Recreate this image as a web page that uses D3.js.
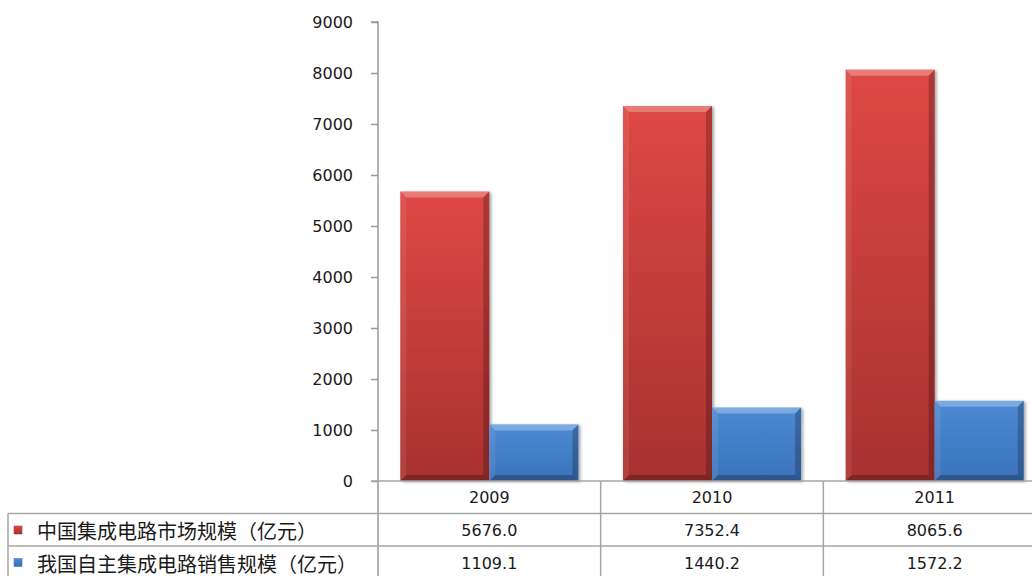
<!doctype html>
<html>
<head>
<meta charset="utf-8">
<title>集成电路市场规模</title>
<script src="https://cdnjs.cloudflare.com/ajax/libs/d3/7.8.5/d3.min.js"></script>
<style>
  body { margin: 0; background: #fff; overflow: hidden; }
  text { font-family: 'DejaVu Sans', Verdana, sans-serif; fill: #1a1a1a; }
  .cjk { font-family: 'Noto Sans CJK SC', sans-serif; }
</style>
</head>
<body>
<div id="chart"></div>
<script>
  // data
  const years = ['2009', '2010', '2011'];
  const seriesNames = ['中国集成电路市场规模（亿元）', '我国自主集成电路销售规模（亿元）'];
  const marketSize = [5676.0, 7352.4, 8065.6];
  const domesticSales = [1109.1, 1440.2, 1572.2];
  const yTicks = [0, 1000, 2000, 3000, 4000, 5000, 6000, 7000, 8000, 9000];

  const series = [marketSize, domesticSales];
  const colors = [
    { top: '#de4845', bottom: '#a8312f', key: 'red' },
    { top: '#4c8ad4', bottom: '#3a72ba', key: 'blue' }
  ];

  const W = 1032, H = 576;
  const x0 = 378, x1 = 1046, yTop = 22, yBase = 481;
  const rowH = 33.5;

  const svg = d3.select('#chart').append('svg')
    .attr('width', W).attr('height', H);

  const defs = svg.append('defs');
  colors.forEach(c => {
    const g = defs.append('linearGradient').attr('id', 'grad-' + c.key)
      .attr('x1', 0).attr('y1', 0).attr('x2', 0).attr('y2', 1);
    g.append('stop').attr('offset', '0%').attr('stop-color', c.top);
    g.append('stop').attr('offset', '100%').attr('stop-color', c.bottom);
  });
  const sh = defs.append('filter').attr('id', 'shadow')
    .attr('x', '-10%').attr('y', '-10%').attr('width', '130%').attr('height', '130%');
  sh.append('feDropShadow').attr('dx', 2).attr('dy', 1).attr('stdDeviation', 1.5)
    .attr('flood-color', '#000').attr('flood-opacity', 0.35);

  // scales
  const y = d3.scaleLinear().domain([0, 9000]).range([yBase, yTop]);
  const xCell = d3.scaleBand().domain(years).range([x0, x1]).padding(0);
  const x = d3.scaleBand().domain(years).range([x0, x1]).paddingInner(0.2).paddingOuter(0.1);
  const xs = d3.scaleBand().domain(d3.range(series.length)).range([0, x.bandwidth()]);

  // y axis
  const yAxis = svg.append('g')
    .attr('transform', `translate(${x0},0)`)
    .call(d3.axisLeft(y).tickValues(yTicks).tickSize(7).tickPadding(18).tickFormat(d3.format('d')));
  yAxis.select('.domain').attr('stroke', '#9a9a9a').attr('stroke-width', 1.5)
    .attr('d', `M-7,${yTop}H0V${H}`);
  yAxis.selectAll('.tick line').attr('stroke', '#9a9a9a').attr('stroke-width', 1.5);
  yAxis.selectAll('.tick text').attr('font-size', 16).attr('fill', '#1a1a1a')
    .attr('font-family', "'DejaVu Sans', Verdana, sans-serif");

  // bars
  const bev = 6;
  const barG = svg.append('g');
  years.forEach((yr, i) => {
    series.forEach((s, j) => {
      const bx = x(yr) + xs(j), bw = xs.bandwidth();
      const by = y(s[i]), bh = yBase - by;
      const g = barG.append('g');
      g.append('rect').attr('x', bx).attr('y', by).attr('width', bw).attr('height', bh)
        .attr('fill', `url(#grad-${colors[j].key})`).attr('filter', 'url(#shadow)');
      const pts = [
        [[bx, by], [bx + bw, by], [bx + bw - bev, by + bev], [bx + bev, by + bev], 'rgba(255,255,255,0.28)'],
        [[bx, by], [bx + bev, by + bev], [bx + bev, by + bh - bev], [bx, by + bh], 'rgba(255,255,255,0.08)'],
        [[bx + bw, by], [bx + bw, by + bh], [bx + bw - bev, by + bh - bev], [bx + bw - bev, by + bev], 'rgba(0,0,0,0.22)'],
        [[bx, by + bh], [bx + bev, by + bh - bev], [bx + bw - bev, by + bh - bev], [bx + bw, by + bh], 'rgba(0,0,0,0.25)']
      ];
      pts.forEach(p => {
        g.append('polygon').attr('points', p.slice(0, 4).map(q => q.join(',')).join(' '))
          .attr('fill', p[4]);
      });
    });
  });

  // data table
  const lineCol = '#a6a6a6';
  const tbl = svg.append('g');
  // horizontal lines
  tbl.append('line').attr('x1', x0 - 7).attr('x2', W).attr('y1', yBase).attr('y2', yBase)
    .attr('stroke', lineCol).attr('stroke-width', 1.5);
  [1, 2].forEach(r => {
    tbl.append('line').attr('x1', 8).attr('x2', W)
      .attr('y1', yBase + r * 32.5).attr('y2', yBase + r * 32.5)
      .attr('stroke', lineCol).attr('stroke-width', 1.5);
  });
  tbl.append('line').attr('x1', 8).attr('x2', 8).attr('y1', yBase + 32.5).attr('y2', H)
    .attr('stroke', lineCol).attr('stroke-width', 1.5);
  years.forEach(yr => {
    tbl.append('line').attr('x1', xCell(yr) + xCell.bandwidth()).attr('x2', xCell(yr) + xCell.bandwidth())
      .attr('y1', yBase).attr('y2', H).attr('stroke', lineCol).attr('stroke-width', 1.5);
  });

  // header row
  years.forEach(yr => {
    tbl.append('text').attr('x', xCell(yr) + xCell.bandwidth() / 2).attr('y', yBase + 16.5)
      .attr('text-anchor', 'middle').attr('dominant-baseline', 'central')
      .attr('font-size', 16).text(yr);
  });
  // series rows
  series.forEach((s, j) => {
    const cy = yBase + 32.5 * (j + 1) + 17;
    tbl.append('rect').attr('x', 14).attr('y', cy - 4.5).attr('width', 8).attr('height', 8)
      .attr('fill', `url(#grad-${colors[j].key})`).attr('stroke', colors[j].bottom).attr('stroke-width', 0.5);
    tbl.append('text').attr('class', 'cjk').attr('x', 37).attr('y', cy)
      .attr('dominant-baseline', 'central').attr('font-size', 20).text(seriesNames[j]);
    years.forEach((yr, i) => {
      tbl.append('text').attr('x', xCell(yr) + xCell.bandwidth() / 2).attr('y', cy)
        .attr('text-anchor', 'middle').attr('dominant-baseline', 'central')
        .attr('font-size', 16).text(s[i].toFixed(1));
    });
  });
</script>
</body>
</html>
